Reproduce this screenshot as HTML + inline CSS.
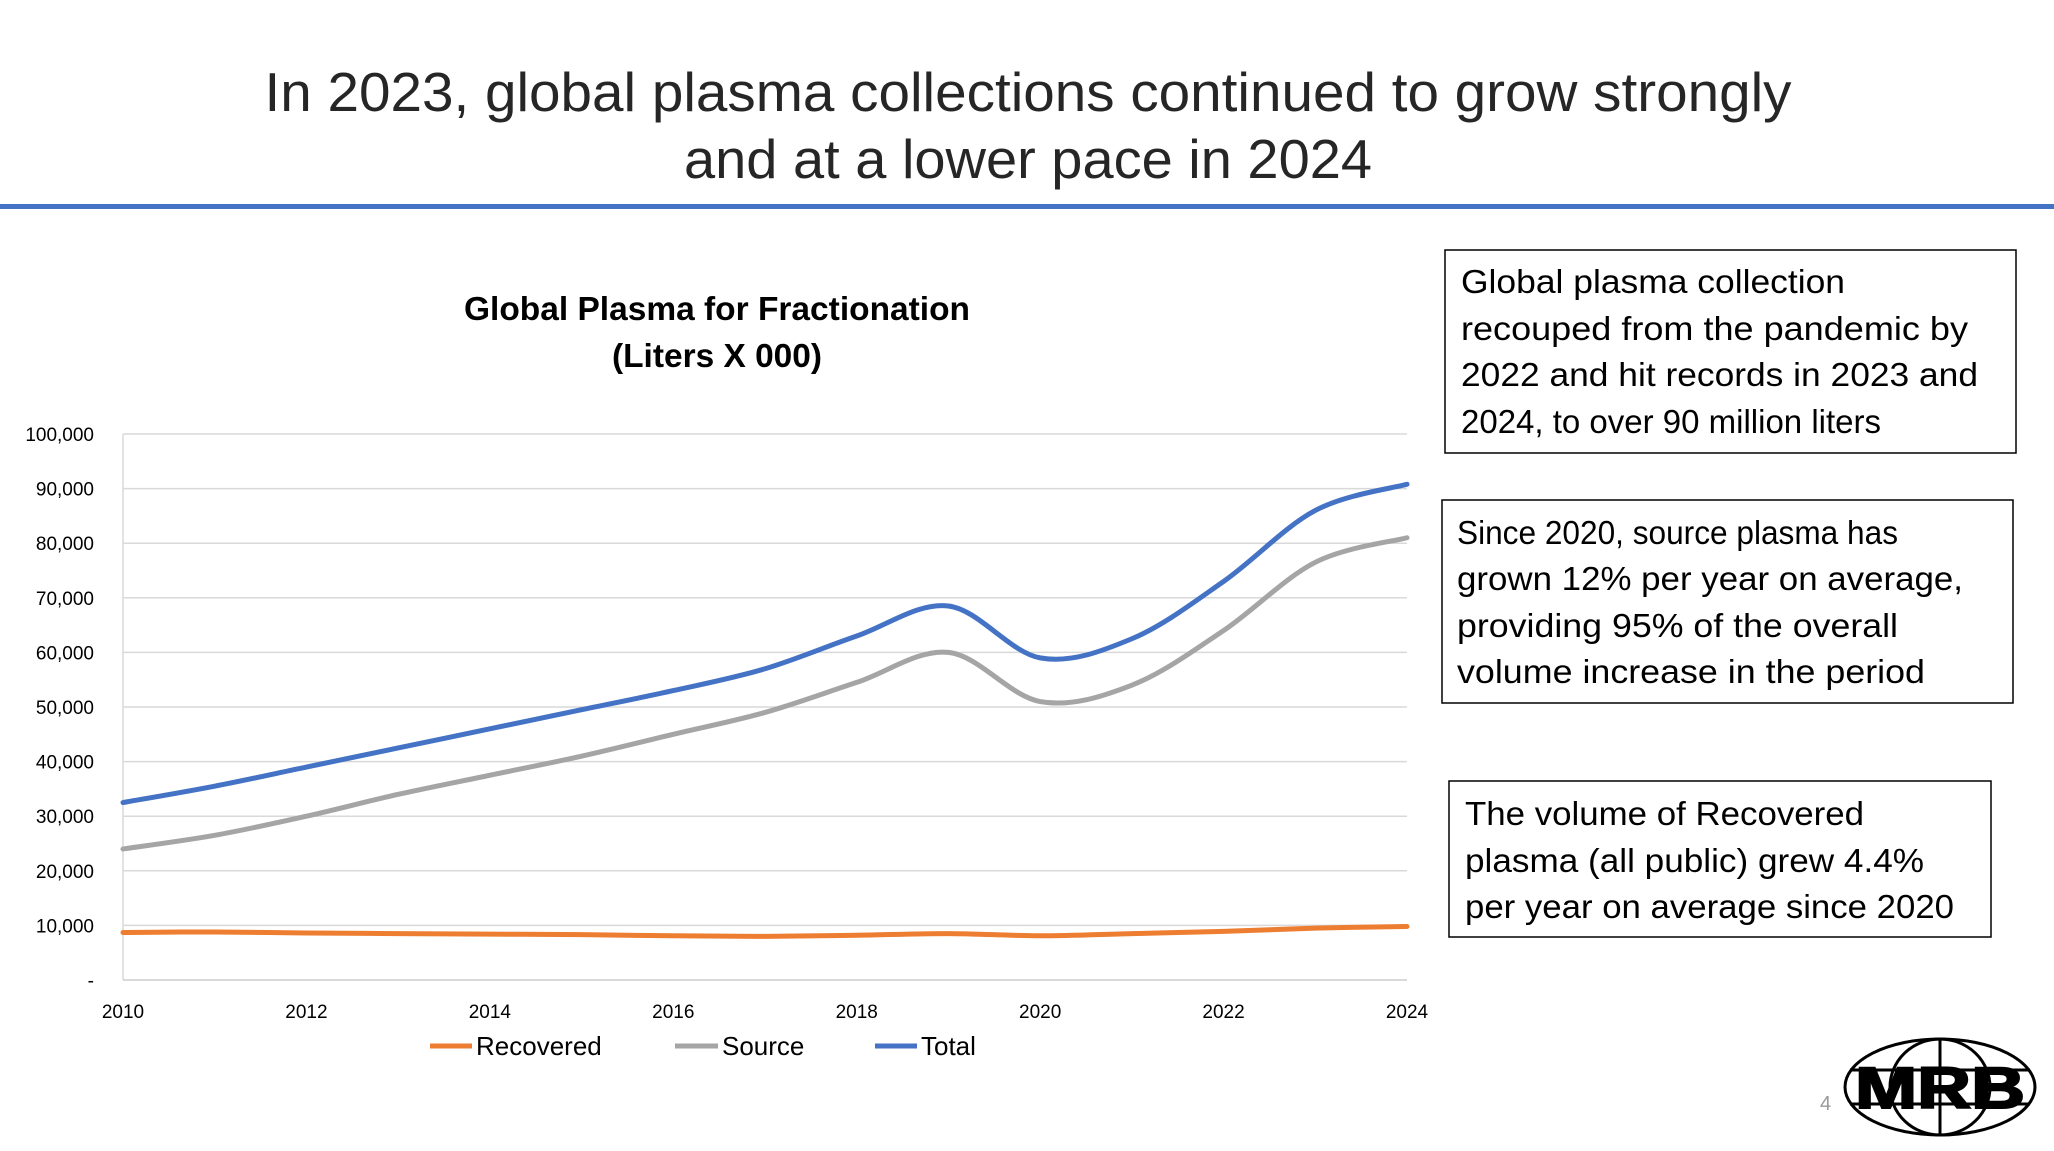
<!DOCTYPE html>
<html><head><meta charset="utf-8"><style>
html,body{margin:0;padding:0;background:#fff;}
svg{display:block;font-family:"Liberation Sans",sans-serif;}
</style></head><body>
<svg id="s" width="2054" height="1151" viewBox="0 0 2054 1151" xmlns="http://www.w3.org/2000/svg">
<g font-size="55" fill="#262626" text-anchor="middle">
<text x="1028" y="111" textLength="1527" lengthAdjust="spacingAndGlyphs">In 2023, global plasma collections continued to grow strongly</text>
<text x="1028" y="178" textLength="688" lengthAdjust="spacingAndGlyphs">and at a lower pace in 2024</text>
</g>
<rect x="0" y="204" width="2054" height="5" fill="#4472C4"/>
<g font-size="33" font-weight="bold" fill="#000" text-anchor="middle">
<text x="717" y="320" textLength="506" lengthAdjust="spacingAndGlyphs">Global Plasma for Fractionation</text>
<text x="717" y="367" textLength="210" lengthAdjust="spacingAndGlyphs">(Liters X 000)</text>
</g>
<g id="grid"></g>
<g id="yax"></g>
<g id="xax"></g>
<g id="series"></g>
<g font-size="26" fill="#000">
<g><line x1="430" y1="1046" x2="472" y2="1046" stroke="#ED7D31" stroke-width="5"/><text x="476" y="1055">Recovered</text></g>
<g><line x1="675" y1="1046" x2="718" y2="1046" stroke="#A5A5A5" stroke-width="5"/><text x="722" y="1055">Source</text></g>
<g><line x1="875" y1="1046" x2="917" y2="1046" stroke="#4472C4" stroke-width="5"/><text x="921" y="1055">Total</text></g>
</g>
<g font-size="33" fill="#000">
<rect x="1445" y="250" width="571" height="203" fill="none" stroke="#000" stroke-width="1.5"/>
<text x="1461" y="293" textLength="384" lengthAdjust="spacingAndGlyphs">Global plasma collection</text>
<text x="1461" y="340" textLength="507" lengthAdjust="spacingAndGlyphs">recouped from the pandemic by</text>
<text x="1461" y="386" textLength="517" lengthAdjust="spacingAndGlyphs">2022 and hit records in 2023 and</text>
<text x="1461" y="433" textLength="420" lengthAdjust="spacingAndGlyphs">2024, to over 90 million liters</text>
</g>
<g font-size="33" fill="#000">
<rect x="1442" y="500" width="571" height="203" fill="none" stroke="#000" stroke-width="1.5"/>
<text x="1457" y="544" textLength="441" lengthAdjust="spacingAndGlyphs">Since 2020, source plasma has</text>
<text x="1457" y="590" textLength="506" lengthAdjust="spacingAndGlyphs">grown 12% per year on average,</text>
<text x="1457" y="637" textLength="441" lengthAdjust="spacingAndGlyphs">providing 95% of the overall</text>
<text x="1457" y="683" textLength="468" lengthAdjust="spacingAndGlyphs">volume increase in the period</text>
</g>
<g font-size="33" fill="#000">
<rect x="1449" y="781" width="542" height="156" fill="none" stroke="#000" stroke-width="1.5"/>
<text x="1465" y="825" textLength="399" lengthAdjust="spacingAndGlyphs">The volume of Recovered</text>
<text x="1465" y="872" textLength="459" lengthAdjust="spacingAndGlyphs">plasma (all public) grew 4.4%</text>
<text x="1465" y="918" textLength="489" lengthAdjust="spacingAndGlyphs">per year on average since 2020</text>
</g>
<text x="1820" y="1110" font-size="20" fill="#999">4</text>
<g fill="none" stroke="#000" stroke-width="3">
<ellipse cx="1940" cy="1087" rx="95" ry="48"/>
<ellipse cx="1940" cy="1087" rx="50" ry="48"/>
<line x1="1940" y1="1039" x2="1940" y2="1135"/>
<line x1="1850" y1="1070" x2="2030" y2="1070"/>
<line x1="1850" y1="1104" x2="2030" y2="1104"/>
<text x="1940" y="1108" font-size="58" font-weight="bold" fill="#000" stroke="#000" stroke-width="2" text-anchor="middle" textLength="170" lengthAdjust="spacingAndGlyphs">MRB</text>
</g>
</svg>
<script>
const years=[2010,2011,2012,2013,2014,2015,2016,2017,2018,2019,2020,2021,2022,2023,2024];
const totalVals=[32500,35500,39000,42500,46000,49500,53000,57000,63000,68500,59000,62500,73000,86000,90800];
const sourceVals=[24000,26500,30000,34000,37500,41000,45000,49000,54500,60000,51000,54000,64000,76500,81000];
const recoveredVals=[8700,8800,8600,8500,8400,8300,8100,8000,8200,8500,8100,8500,8900,9500,9800];
const yTicks=[0,10000,20000,30000,40000,50000,60000,70000,80000,90000,100000];
const xTicks=[2010,2012,2014,2016,2018,2020,2022,2024];
const NS='http://www.w3.org/2000/svg';
const L=123,R=1407,T=434,B=980;
const xs=v=>L+(v-2010)/(2024-2010)*(R-L);
const ys=v=>B-v/100000*(B-T);
function mk(t,a,p){const e=document.createElementNS(NS,t);for(const k in a)e.setAttribute(k,a[k]);p.appendChild(e);return e;}
const grid=document.getElementById('grid'),yax=document.getElementById('yax'),xax=document.getElementById('xax'),ser=document.getElementById('series');
yTicks.forEach(v=>{
 const g=mk('line',{x1:L,x2:R,y1:ys(v),y2:ys(v),stroke:'#D9D9D9','stroke-width':1.5},grid);
 
 
 const t=mk('text',{x:94,y:ys(v)+7,'font-size':19,'text-anchor':'end',fill:'#000'},yax);
 t.textContent=v===0?'-':v.toLocaleString('en-US');
 
 
});
mk('line',{x1:L,x2:L,y1:T,y2:B,stroke:'#D9D9D9','stroke-width':1.5},grid);
mk('line',{x1:L,x2:R,y1:B,y2:B,stroke:'#D9D9D9','stroke-width':2},grid);
xTicks.forEach(v=>{
 const t=mk('text',{x:xs(v),y:1018,'font-size':19,'text-anchor':'middle',fill:'#000'},xax);
 t.textContent=v;
 
 
});
function path(vals){
 const p=vals.map((v,i)=>[xs(years[i]),ys(v)]);
 let d='M'+p[0][0]+','+p[0][1];
 for(let i=0;i<p.length-1;i++){
  const p0=p[Math.max(0,i-1)],p1=p[i],p2=p[i+1],p3=p[Math.min(p.length-1,i+2)];
  const c1=[p1[0]+(p2[0]-p0[0])/6,p1[1]+(p2[1]-p0[1])/6];
  const c2=[p2[0]-(p3[0]-p1[0])/6,p2[1]-(p3[1]-p1[1])/6];
  d+=' C'+c1+' '+c2+' '+p2;
 }
 return d;
}
[[recoveredVals,'#ED7D31','line-recovered'],[sourceVals,'#A5A5A5','line-source'],[totalVals,'#4472C4','line-total']].forEach(s=>{
 const e=mk('path',{d:path(s[0]),fill:'none',stroke:s[1],'stroke-width':5,'stroke-linecap':'round'},ser);
 
 
});
</script>
</body></html>
